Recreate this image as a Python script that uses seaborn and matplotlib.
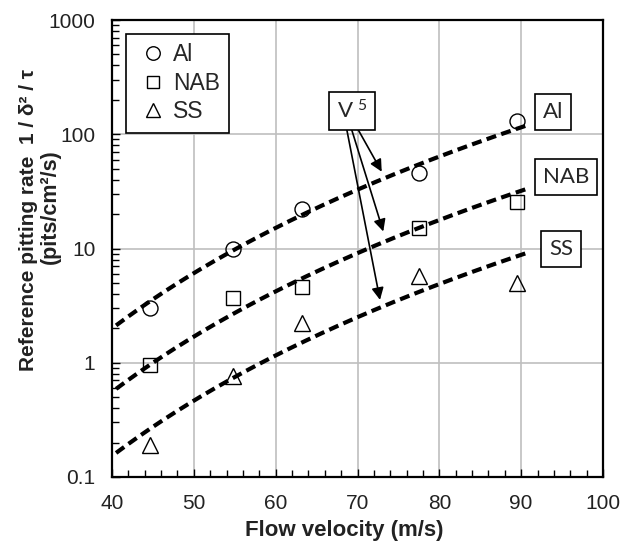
import numpy as np
import pandas as pd
import matplotlib
matplotlib.use("Agg")
import matplotlib.pyplot as plt
import matplotlib.ticker as mticker
import seaborn as sns

# ---------------- data ----------------
velocity = [44.7, 54.8, 63.2, 77.5, 89.5]
rate_al = [3.0, 10.0, 22.0, 46.0, 131.0]
rate_nab = [0.96, 3.67, 4.6, 15.2, 25.7]
rate_ss = [0.19, 0.77, 2.25, 5.7, 5.0]

# V^5 fit lines: value at the reference velocity (90 m/s)
fit_ref_velocity = 90.0
fit_exponent = 5
fit_al = 115.0
fit_nab = 32.0
fit_ss = 8.8
fit_range = [40.5, 90.5]

series_names = ["Al", "NAB", "SS"]
x_ticks = [40, 50, 60, 70, 80, 90, 100]
y_ticks = [0.1, 1, 10, 100, 1000]
y_tick_labels = ["0.1", "1", "10", "100", "1000"]

# arrows from the V^5 box
arrow_start_x = [70.1, 69.3, 68.7]
arrow_start_y = [109, 109, 109]
arrow_end_x = [72.96, 73.15, 72.75]
arrow_end_y = [47.0, 14.1, 3.55]

# ---------------- style ----------------
sns.set_style("white")
plt.rcParams["font.family"] = ["Liberation Sans", "DejaVu Sans"]

W, H = 621, 548
fig = plt.figure(figsize=(W / 100, H / 100), dpi=100)
ax = fig.add_axes([112 / W, 71 / H, 491 / W, 457 / H])

# fitted dashed curves
v_fit = np.linspace(fit_range[0], fit_range[1], 200)
for ref in [fit_al, fit_nab, fit_ss]:
    df = pd.DataFrame({"v": v_fit, "r": ref * (v_fit / fit_ref_velocity) ** fit_exponent})
    sns.lineplot(data=df, x="v", y="r", ax=ax, color="black", lw=3.0,
                 linestyle=(0, (2.4, 1.3)), dash_capstyle="butt", zorder=4)

# data markers
markers = {"Al": ("o", 10.8), "NAB": ("s", 9.6), "SS": ("^", 11.0)}
for name, vals in zip(series_names, [rate_al, rate_nab, rate_ss]):
    df = pd.DataFrame({"v": velocity, "r": vals})
    m, ms = markers[name]
    sns.lineplot(data=df, x="v", y="r", ax=ax, marker=m, markersize=ms,
                 markerfacecolor="none", markeredgecolor="black",
                 markeredgewidth=1.0, linestyle="", label=name, zorder=3)

ax.set_yscale("log")
ax.set_xlim(40, 100)
ax.set_ylim(0.1, 1000)
ax.set_xticks(x_ticks)
ax.xaxis.set_minor_locator(mticker.MultipleLocator(2))
ax.yaxis.set_major_locator(mticker.FixedLocator(y_ticks))
ax.yaxis.set_major_formatter(mticker.FixedFormatter(y_tick_labels))
ax.yaxis.set_minor_locator(mticker.LogLocator(base=10, subs=np.arange(2, 10)))
ax.yaxis.set_minor_formatter(mticker.NullFormatter())

ax.grid(True, which="major", color="#bfbfbf", lw=1.2)
ax.set_axisbelow(True)
for sp in ax.spines.values():
    sp.set_color("black")
    sp.set_linewidth(1.6)
ax.tick_params(which="both", direction="in", left=True, bottom=True,
               top=False, right=False, colors="black", labelcolor="#222222")
ax.tick_params(which="major", length=6, width=1.0, labelsize=15, pad=12)
ax.tick_params(which="minor", length=5, width=1.0)

ax.set_xlabel("Flow velocity (m/s)", fontsize=16, fontweight="bold", color="#222222")
ax.xaxis.set_label_coords(0.4725, -0.095)
ax.set_ylabel("")

fig.text(29 / W, 1 - 220 / H, "Reference pitting rate  1 / δ² / τ", rotation=90,
         ha="center", va="center", fontsize=15, fontweight="bold", color="#222222")
fig.text(50 / W, 1 - 207 / H, "(pits/cm²/s)", rotation=90,
         ha="center", va="center", fontsize=15.5, fontweight="bold", color="#222222")

leg = ax.legend(loc="upper left", fontsize=16.5, frameon=True, fancybox=False,
                edgecolor="black", borderpad=0.4, labelspacing=0.25,
                handlelength=1.6, handletextpad=0.05, borderaxespad=0.6,
                markerscale=0.9)
leg.get_frame().set_linewidth(1.2)
leg.get_frame().set_alpha(1)

box_font = ["Lato", "DejaVu Sans"]
bbox = dict(boxstyle="square,pad=0.35", fc="white", ec="black", lw=1.2)
ax.text(69.33, 160, r"V $\mathregular{^{5}}$", fontsize=16, family=box_font,
        ha="center", va="center", bbox=bbox, zorder=6)
for lab, lx, ly in zip(series_names, [93.9, 95.5, 94.9], [157, 42.3, 9.9]):
    ax.text(lx, ly, lab, fontsize=16, family=box_font, ha="center", va="center",
            bbox=bbox, zorder=6)

for xs, ys, xe, ye in zip(arrow_start_x, arrow_start_y, arrow_end_x, arrow_end_y):
    ax.annotate("", xy=(xe, ye), xytext=(xs, ys),
                arrowprops=dict(arrowstyle="-|>", color="black", lw=1.2,
                                mutation_scale=18, shrinkA=0, shrinkB=0),
                zorder=5)

fig.savefig("out.png", dpi=100)
